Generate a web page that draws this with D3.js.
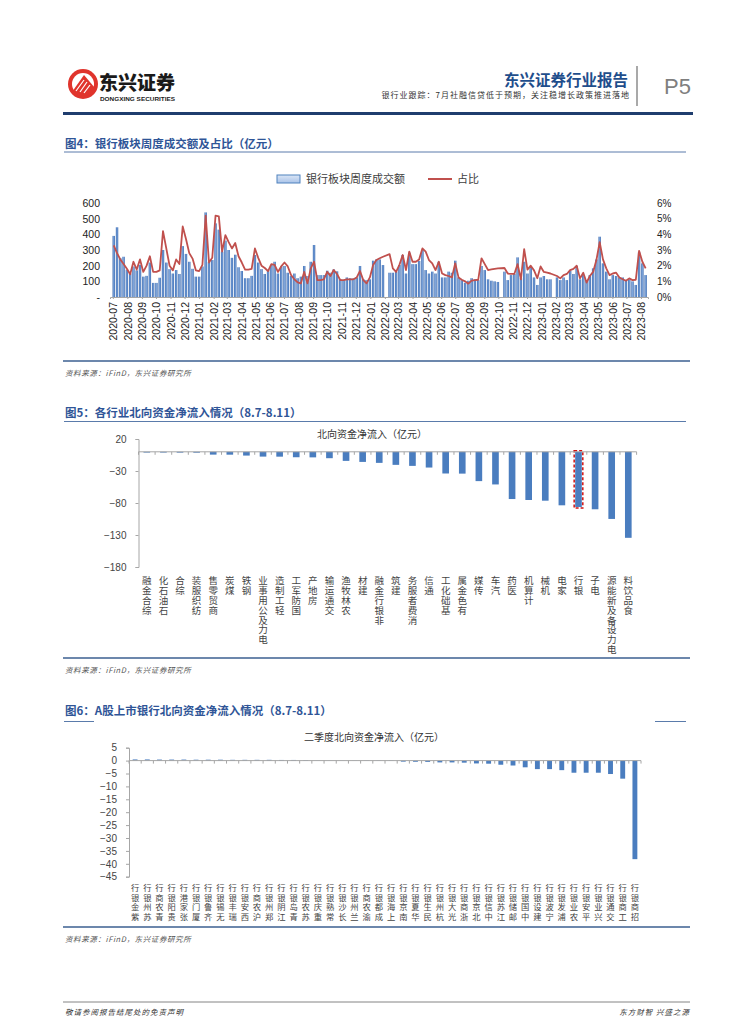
<!DOCTYPE html>
<html>
<head>
<meta charset="utf-8">
<script src="https://cdn.jsdelivr.net/npm/d3@7"></script>
<style>
  body { margin: 0; background: #fff; }
  svg { display: block; }
</style>
</head>
<body>
<svg width="755" height="1024"></svg>
<script>
"use strict";

// SVG.

var svg = d3.select("svg");

var SansCJK = "'Noto Sans CJK SC', 'Noto Sans', sans-serif";
var Latin = "'Liberation Sans', Arial, sans-serif";

// Data.

// Weekly bank-sector turnover (100m yuan), one value per trading week,
// weeks ending on Friday, first week ends 2020-07-03. null = no trading.
var FirstWeek = new Date(2020, 6, 3);

var turnover = [
  390, 445, 247, 257, 175, 150, 195, 170, 205, 130,
  135, 220, 90, 90, 123, 300, 220, 178, 150, 172,
  147, 325, 275, 225, 180, 130, 130, 195, 540, 225,
  236, 470, 430, 290, 360, 300, 250, 270, 190, 166,
  120, 120, 135, 268, 220, 178, 147, 172, 204, 225,
  150, 195,
  198, 155, 134, 150, 120, 130, 198, 134, 225, 332,
  140, 140, 140, 168, 155, 176, 164, 113, 108, 125,
  120, 118, 125, 198, 113, 108, 113, 232, 240, 240,
  204, null,
  155, 155, 162, 204, 268, 150, 283, 210, 210, 230,
  300, 172, 150, 162, 150, 225, 125, 125, 162, 155,
  232, 125, 108, 91, 104, 120, 113, 108, 198, 172,
  113, 104, 100, 96, null,
  162, 108, 140, 147, 253, 120, 225, 150, 190, 125,
  77, 125, 134, 113, 113, null,
  125, 108, 125, 108, 168, 147, 198, 113, 140, 108,
  140, 183, 240, 385, 215, 162, 113, 140, 134, 125,
  125, 108, 113, 100, 77, 285, 215, 140
];

// Share of bank-sector turnover in the whole market (%).
var share = [
  3.3, 2.8, 2.4, 2.1, 1.8, 1.45, 2.25, 1.75, 2.4, 1.6,
  2.0, 2.6, 1.6, 1.6, 1.7, 4.2, 3.1, 2.0, 1.7, 2.4,
  2.1, 4.5, 3.7, 2.8, 2.45, 1.7, 1.65, 2.05, 5.2, 2.2,
  2.5, 5.2, 5.15, 2.9, 3.95, 3.5, 3.1, 3.45, 2.6, 2.2,
  1.75, 1.75, 1.8, 3.1, 2.5, 2.0, 1.85, 1.65, 2.1, 2.05,
  1.6, 1.95,
  2.2, 1.95, 1.4, 1.13, 0.94, 0.87, 1.6, 0.87, 1.83, 2.25,
  1.08, 1.08, 1.13, 1.6, 1.34, 1.72, 1.47, 1.08, 1.08, 1.13,
  1.13, 1.13, 1.25, 1.66, 1.08, 0.87, 1.25, 2.05, 2.36, 2.47,
  2.57, null,
  2.74, 1.83, 1.6, 2.05, 2.68, 1.72, 2.9, 2.25, 2.25, 2.4,
  3.1, 2.9, 2.36, 2.15, 1.72, 2.25, 1.5, 1.4, 1.34, 1.25,
  2.15, 1.25, 1.1, 1.0, 0.85, 1.05, 1.08, 1.1, 2.47, 2.1,
  1.72, 1.76, 1.8, 1.83, null,
  1.85, 1.5, 1.47, 1.47, 2.1, 1.13, 3.05, 1.75, 2.0, 1.7,
  1.2, 1.95, 1.6, 1.55, 1.5, null,
  1.34, 1.19, 1.4, 1.47, 1.72, 1.8, 2.0, 1.19, 1.55, 0.92,
  1.34, 1.6, 2.36, 3.5, 2.4, 1.83, 1.4, 1.5, 1.55, 1.25,
  1.13, 1.04, 1.19, 1.08, 1.1, 2.95, 2.25, 1.83
];

var TurnoverTicks = [0, 100, 200, 300, 400, 500, 600];
var ShareTicks = [0, 1, 2, 3, 4, 5, 6];

// Northbound net inflow by industry, 8.7-8.11 (100m yuan).
var industries = ["综合金融", "石油石化", "综合", "纺织服装", "商贸零售", "煤炭", "钢铁",
  "电力及公用事业", "轻工制造", "国防军工", "房地产", "交通运输", "农林牧渔", "建材",
  "非银行金融", "建筑", "消费者服务", "通信", "基础化工", "有色金属", "传媒", "汽车",
  "医药", "计算机", "机械", "家电", "银行", "电子", "电力设备及新能源", "食品饮料"];
var industryFlows = [-1.2, -1.2, -1.3, -1.4, -4.4, -4.5, -5.9, -7.5, -7.6, -8.5,
  -8.7, -10.0, -14.2, -15.8, -17.3, -20.4, -22.0, -24.6, -33.9, -34.1,
  -45.8, -51.0, -73.8, -75.3, -76.4, -83.6, -86.2, -89.8, -104.9, -134.4];
var IndustryTicks = [20, -30, -80, -130, -180];
var Highlight = "银行";

// Northbound net inflow by listed bank, 8.7-8.11 (100m yuan).
var banks = ["紫金银行", "苏州银行", "青农商行", "贵阳银行", "张家港行", "厦门银行", "齐鲁银行",
  "无锡银行", "瑞丰银行", "西安银行", "沪农商行", "郑州银行", "江阴银行", "青岛银行",
  "苏农银行", "重庆银行", "常熟银行", "长沙银行", "兰州银行", "渝农商行", "成都银行",
  "上海银行", "南京银行", "华夏银行", "民生银行", "杭州银行", "光大银行", "浙商银行",
  "北京银行", "中信银行", "江苏银行", "邮储银行", "中国银行", "建设银行", "宁波银行",
  "浦发银行", "农业银行", "平安银行", "兴业银行", "交通银行", "工商银行", "招商银行"];
var bankFlows = [0.45, 0.45, 0.4, 0.4, 0.4, 0.35, 0.35, 0.35, 0.3, 0.3,
  0.3, 0.3, 0.25, 0.25, 0.2, 0.05, -0.05, -0.05, -0.05, -0.1,
  -0.1, -0.15, -0.4, -0.45, -0.5, -0.7, -0.7, -0.8, -1.1, -1.2,
  -1.6, -1.9, -2.6, -3.3, -3.3, -3.7, -4.7, -4.7, -4.7, -5.2,
  -7.0, -38.2];
var BankTicks = [5, 0, -5, -10, -15, -20, -25, -30, -35, -40, -45];

// Colors.

var TitleColor = "#2f5597";
var RuleColor = "#3b5f91";
var BarColor = "#4a7dbf";
var LineColor = "#c0504d";
var AxisColor = "#a6a6a6";
var TextColor = "#333";

// Defs: the Excel-like bar gradient.

var defs = svg.append("defs");
var grad = defs.append("linearGradient").attr("id", "barGrad")
    .attr("x1", "0%").attr("x2", "100%").attr("y1", "0%").attr("y2", "0%");
grad.append("stop").attr("offset", "0%").attr("stop-color", "#3565ad");
grad.append("stop").attr("offset", "50%").attr("stop-color", "#7ea6dc");
grad.append("stop").attr("offset", "100%").attr("stop-color", "#3565ad");
var lgrad = defs.append("linearGradient").attr("id", "legGrad")
    .attr("x1", "0%").attr("x2", "0%").attr("y1", "0%").attr("y2", "100%");
lgrad.append("stop").attr("offset", "0%").attr("stop-color", "#dbe6f6");
lgrad.append("stop").attr("offset", "100%").attr("stop-color", "#a9c3e8");

// Helpers.

var AddText = function(g, x, y, str, size, opts){
    opts = opts || {};
    return g.append("text")
        .attr("x", x).attr("y", y)
        .attr("font-family", opts.family || SansCJK)
        .attr("font-size", size)
        .attr("font-weight", opts.weight || "normal")
        .attr("font-style", opts.style || "normal")
        .attr("letter-spacing", opts.spacing || 0)
        .attr("text-anchor", opts.anchor || "start")
        .attr("fill", opts.fill || TextColor)
        .text(str);
};

var HLine = function(x1, x2, y, color, w){
    svg.append("line")
        .attr("x1", x1).attr("x2", x2).attr("y1", y).attr("y2", y)
        .attr("stroke", color).attr("stroke-width", w);
};

// Stacked label: upright characters read from bottom to top, top aligned.
// One vertical text per character, so each box is just one em tall.
var StackedLabel = function(g, x, top, str, size, step){
    var chars = str.split("");
    var n = chars.length;
    chars.forEach(function(c, j){
        g.append("text")
            .attr("x", x)
            .attr("y", top + (n - 1 - j)*step)
            .attr("font-family", SansCJK)
            .attr("font-size", size)
            .attr("fill", "#444")
            .attr("text-anchor", "start")
            .style("writing-mode", "vertical-rl")
            .style("text-orientation", "upright")
            .text(c);
    });
};

var SectionTitle = function(y, str){
    AddText(svg, 65, y, str, 11.5, {weight: "bold", fill: TitleColor});
};

var Source = function(y){
    HLine(63, 690, y, RuleColor, 1.5);
    AddText(svg, 65, y + 15, "资料来源：iFinD，东兴证券研究所", 7.5,
        {style: "italic", fill: "#555", spacing: 0.6});
};

// Header.

var logo = svg.append("g");
logo.append("circle").attr("cx", 83).attr("cy", 84).attr("r", 15).attr("fill", "#e0342c");
logo.append("circle").attr("cx", 83).attr("cy", 84).attr("r", 11).attr("fill", "#fff");
logo.append("path")
    .attr("d", "M72,92 L84,75 L95,88 L95,93 Q83,99 72,92 Z")
    .attr("fill", "#e0342c");
[[76, 91, 84, 80], [80, 92, 87, 82], [84, 93, 90, 85]].forEach(function(s){
    logo.append("line")
        .attr("x1", s[0]).attr("y1", s[1]).attr("x2", s[2]).attr("y2", s[3])
        .attr("stroke", "#fff").attr("stroke-width", 1.2);
});

AddText(svg, 99, 90, "东兴证券", 19, {weight: 900, fill: "#1a1a1a"});
AddText(svg, 100, 101, "DONGXING SECURITIES", 6, {family: Latin, weight: "bold", fill: "#1a1a1a"})
    .attr("textLength", 75).attr("lengthAdjust", "spacingAndGlyphs");

AddText(svg, 628, 86, "东兴证券行业报告", 15.5, {weight: "bold", fill: "#1f4e8c", anchor: "end"});
AddText(svg, 630, 98, "银行业跟踪：7月社融信贷低于预期，关注稳增长政策推进落地", 8,
    {anchor: "end", spacing: 1, fill: "#333"});
svg.append("line").attr("x1", 637).attr("x2", 637).attr("y1", 66).attr("y2", 106)
    .attr("stroke", "#8c8c8c").attr("stroke-width", 1.5);
AddText(svg, 664, 94, "P5", 22, {family: Latin, fill: "#7f7f7f"});

svg.append("rect").attr("x", 63).attr("y", 112).attr("width", 630).attr("height", 3)
    .attr("fill", "#1f3d6e");

// Chart 1: weekly turnover and share.

SectionTitle(148, "图4：银行板块周度成交额及占比（亿元）");
HLine(64, 686, 152, "#5a7bab", 1);

var weeks = turnover.map(function(d, i){ return d3.timeWeek.offset(FirstWeek, i); });
var weekly = weeks.map(function(w, i){ return {"date": w, "value": turnover[i], "share": share[i]}; });

var x1 = d3.scaleTime()
    .domain([new Date(2020, 5, 25), new Date(2023, 7, 16)])
    .range([110, 648]);
var y1 = d3.scaleLinear().domain([0, 600]).range([297, 203]);
var y2 = d3.scaleLinear().domain([0, 6]).range([297, 203]);

var c1 = svg.append("g");

c1.selectAll("rect.bar")
    .data(weekly.filter(function(d){ return d.value !== null; }))
    .enter()
    .append("rect")
        .attr("class", "bar")
        .attr("x", function(d){ return x1(d.date) - 1.2; })
        .attr("width", 2.4)
        .attr("y", function(d){ return y1(d.value); })
        .attr("height", function(d){ return y1(0) - y1(d.value); })
        .attr("fill", "url(#barGrad)");

var xAxis1 = d3.axisBottom(x1)
    .tickValues(d3.timeMonth.range(new Date(2020, 6, 1), new Date(2023, 7, 2)))
    .tickFormat(d3.timeFormat("%Y-%m"))
    .tickSize(2);
var gx1 = c1.append("g").attr("transform", "translate(0,297)").call(xAxis1);
gx1.select(".domain").attr("stroke", AxisColor);
gx1.selectAll(".tick line").attr("stroke", AxisColor);
gx1.selectAll("text")
    .attr("transform", "rotate(-90)")
    .attr("text-anchor", "end")
    .attr("x", -5).attr("y", 0).attr("dy", "0.35em")
    .attr("font-family", Latin).attr("font-size", 10.5).attr("fill", "#222");

var line1 = d3.line()
    .x(function(d){ return x1(d.date); })
    .y(function(d){ return y2(d.share); });
c1.append("path")
    .datum(weekly.filter(function(d){ return d.share !== null; }))
    .attr("d", line1)
    .attr("fill", "none")
    .attr("stroke", LineColor)
    .attr("stroke-width", 1.8)
    .attr("stroke-linejoin", "round");

var gy1 = c1.append("g").attr("transform", "translate(103,0)")
    .call(d3.axisLeft(y1).tickValues(TurnoverTicks).tickSize(0).tickPadding(3)
        .tickFormat(function(d){ return d === 0 ? "-" : d; }));
gy1.select(".domain").remove();
gy1.selectAll("text").attr("font-family", Latin).attr("font-size", 10.5).attr("fill", "#222");

var gy2 = c1.append("g").attr("transform", "translate(654,0)")
    .call(d3.axisRight(y2).tickValues(ShareTicks).tickSize(0).tickPadding(3)
        .tickFormat(function(d){ return d + "%"; }));
gy2.select(".domain").remove();
gy2.selectAll("text").attr("font-family", Latin).attr("font-size", 10).attr("fill", "#222");

// Legend.
c1.append("rect").attr("x", 277).attr("y", 175).attr("width", 23).attr("height", 8)
    .attr("fill", "url(#legGrad)").attr("stroke", "#4f81bd").attr("stroke-width", 1);
AddText(c1, 306, 183, "银行板块周度成交额", 11, {fill: "#404040"});
c1.append("line").attr("x1", 428).attr("x2", 452).attr("y1", 179).attr("y2", 179)
    .attr("stroke", LineColor).attr("stroke-width", 2);
AddText(c1, 457, 183, "占比", 11, {fill: "#404040"});

Source(361);

// Chart 2: northbound flows by industry.

SectionTitle(417, "图5：各行业北向资金净流入情况（8.7-8.11）");
HLine(64, 686, 421.5, "#5a7bab", 1);

var x2 = d3.scaleBand().domain(industries).range([138.5, 636.6])
    .paddingInner(0.6).paddingOuter(0.3);
var y3 = d3.scaleLinear().domain([-180, 20]).range([567, 439]);

var c2 = svg.append("g");
AddText(c2, 372, 438, "北向资金净流入（亿元）", 10, {anchor: "middle", fill: "#333"});

c2.selectAll("rect.bar")
    .data(industries)
    .enter()
    .append("rect")
        .attr("class", "bar")
        .attr("x", function(d){ return x2(d); })
        .attr("width", x2.bandwidth())
        .attr("y", y3(0))
        .attr("height", function(d, i){ return y3(industryFlows[i]) - y3(0); })
        .attr("fill", BarColor);

// Dashed frame around the bank bar.
var hi = industries.indexOf(Highlight);
c2.append("rect")
    .attr("x", x2(Highlight) - 1)
    .attr("width", x2.bandwidth() + 2)
    .attr("y", y3(0) - 1)
    .attr("height", y3(industryFlows[hi]) - y3(0) + 2)
    .attr("fill", "none")
    .attr("stroke", "#d01010")
    .attr("stroke-width", 1.5)
    .attr("stroke-dasharray", "3,2");

var gy3 = c2.append("g").attr("transform", "translate(138.5,0)")
    .call(d3.axisLeft(y3).tickValues(IndustryTicks).tickSize(3).tickPadding(9));
gy3.select(".domain").attr("stroke", AxisColor);
gy3.selectAll(".tick line").attr("stroke", AxisColor);
gy3.selectAll("text").attr("font-family", Latin).attr("font-size", 10).attr("fill", "#444");

// Category boundary ticks on the zero line.
var step2 = x2.step();
var edge2 = x2(industries[0]) + x2.bandwidth()/2 - step2/2;
c2.append("line").attr("x1", 138.5).attr("x2", 636.6).attr("y1", y3(0)).attr("y2", y3(0))
    .attr("stroke", AxisColor);
c2.selectAll("line.cat")
    .data(d3.range(industries.length + 1))
    .enter()
    .append("line")
        .attr("class", "cat")
        .attr("x1", function(k){ return edge2 + k*step2; })
        .attr("x2", function(k){ return edge2 + k*step2; })
        .attr("y1", y3(0)).attr("y2", y3(0) + 3)
        .attr("stroke", AxisColor);

industries.forEach(function(d){
    StackedLabel(c2, x2(d) + x2.bandwidth()/2, 576, d, 9.5, 9.8);
});

Source(658);

// Chart 3: northbound flows by bank.

SectionTitle(715, "图6：A股上市银行北向资金净流入情况（8.7-8.11）");
HLine(64, 94, 721.5, "#5a7bab", 1);
HLine(655, 686, 721.5, "#5a7bab", 1);

var x3 = d3.scaleBand().domain(banks).range([129, 641])
    .paddingInner(0.6).paddingOuter(0.3);
var y4 = d3.scaleLinear().domain([-45, 5]).range([876.7, 747.7]);

var c3 = svg.append("g");
AddText(c3, 374, 741, "二季度北向资金净流入（亿元）", 10, {anchor: "middle", fill: "#333"});

c3.selectAll("rect.bar")
    .data(banks)
    .enter()
    .append("rect")
        .attr("class", "bar")
        .attr("x", function(d){ return x3(d); })
        .attr("width", x3.bandwidth())
        .attr("y", function(d, i){ return y4(Math.max(0, bankFlows[i])); })
        .attr("height", function(d, i){ return Math.abs(y4(bankFlows[i]) - y4(0)); })
        .attr("fill", BarColor);

var gy4 = c3.append("g").attr("transform", "translate(129,0)")
    .call(d3.axisLeft(y4).tickValues(BankTicks).tickSize(3).tickPadding(9));
gy4.select(".domain").attr("stroke", AxisColor);
gy4.selectAll(".tick line").attr("stroke", AxisColor);
gy4.selectAll("text").attr("font-family", Latin).attr("font-size", 10).attr("fill", "#444");

var step3 = x3.step();
var edge3 = x3(banks[0]) + x3.bandwidth()/2 - step3/2;
c3.append("line").attr("x1", 129).attr("x2", 641).attr("y1", y4(0)).attr("y2", y4(0))
    .attr("stroke", AxisColor);
c3.selectAll("line.cat")
    .data(d3.range(banks.length + 1))
    .enter()
    .append("line")
        .attr("class", "cat")
        .attr("x1", function(k){ return edge3 + k*step3; })
        .attr("x2", function(k){ return edge3 + k*step3; })
        .attr("y1", y4(0)).attr("y2", y4(0) + 3)
        .attr("stroke", AxisColor);

banks.forEach(function(d){
    StackedLabel(c3, x3(d) + x3.bandwidth()/2, 884, d, 8.3, 9.5);
});

Source(927);

// Footer.

HLine(63, 690, 1002, "#666", 0.8);
AddText(svg, 65, 1015, "敬请参阅报告结尾处的免责声明", 7.5, {style: "italic", spacing: 1, fill: "#333"});
AddText(svg, 690, 1015, "东方财智 兴盛之源", 7.5, {style: "italic", spacing: 1, fill: "#333", anchor: "end"});
</script>
</body>
</html>
